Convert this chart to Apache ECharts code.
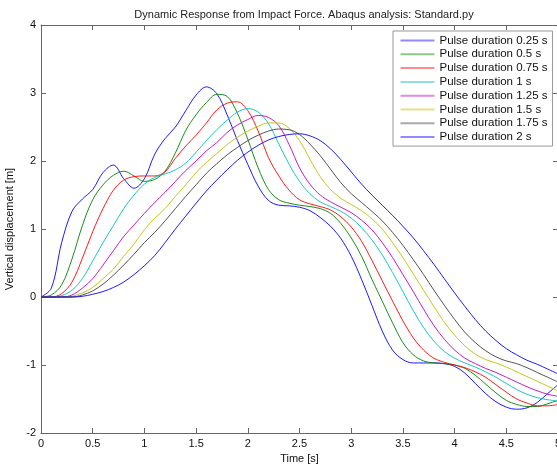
<!DOCTYPE html>
<html>
<head>
<meta charset="utf-8">
<script src="https://cdn.jsdelivr.net/npm/echarts@6/dist/echarts.min.js"></script>
<style>
  html, body { margin: 0; padding: 0; background: #fff; overflow: hidden; }
  #chart { width: 557px; height: 466px; }
</style>
</head>
<body>
<div id="chart"></div>
<script>
// Time samples [s]
const times = [0,0.1,0.2,0.3,0.4,0.5,0.6,0.7,0.8,0.9,1.0,1.1,1.2,1.3,1.4,1.5,1.6,1.7,1.8,1.9,2.0,2.1,2.2,2.3,2.4,2.5,2.6,2.7,2.8,2.9,3.0,3.1,3.2,3.3,3.4,3.5,3.6,3.7,3.8,3.9,4.0,4.1,4.2,4.3,4.4,4.5,4.6,4.7,4.8,4.9,5.0];

const seriesNames = ['Pulse duration 0.25 s','Pulse duration 0.5 s','Pulse duration 0.75 s','Pulse duration 1 s','Pulse duration 1.25 s','Pulse duration 1.5 s','Pulse duration 1.75 s','Pulse duration 2 s'];

const pulse025 = [0,0.13,0.8,1.26,1.44,1.58,1.83,1.94,1.74,1.6,1.74,2.1,2.33,2.5,2.74,2.97,3.09,2.99,2.68,2.3,1.95,1.63,1.42,1.35,1.34,1.32,1.27,1.17,1.04,0.86,0.6,0.26,-0.12,-0.5,-0.78,-0.92,-0.97,-0.97,-0.97,-0.98,-1.02,-1.12,-1.27,-1.42,-1.54,-1.62,-1.65,-1.63,-1.55,-1.42,-1.29];
const pulse050 = [0,0.03,0.18,0.56,1.05,1.43,1.65,1.79,1.85,1.78,1.70,1.73,1.85,2.12,2.45,2.68,2.86,2.98,2.95,2.7,2.32,1.9,1.58,1.43,1.38,1.35,1.33,1.30,1.23,1.08,0.87,0.6,0.26,-0.06,-0.38,-0.67,-0.85,-0.94,-0.97,-0.98,-1.0,-1.05,-1.15,-1.28,-1.41,-1.52,-1.58,-1.61,-1.61,-1.57,-1.52];
const pulse075 = [0,0,0.05,0.22,0.57,0.96,1.3,1.57,1.72,1.77,1.78,1.78,1.84,2.04,2.22,2.38,2.56,2.75,2.85,2.87,2.74,2.44,2.05,1.78,1.57,1.43,1.37,1.33,1.28,1.18,1.03,0.82,0.54,0.24,-0.06,-0.35,-0.6,-0.78,-0.9,-0.96,-1.0,-1.04,-1.1,-1.18,-1.29,-1.4,-1.5,-1.56,-1.6,-1.6,-1.58];
const pulse100 = [0,0,0.02,0.1,0.27,0.53,0.8,1.05,1.3,1.5,1.66,1.76,1.81,1.87,1.97,2.13,2.3,2.46,2.6,2.72,2.77,2.72,2.55,2.25,1.95,1.7,1.52,1.4,1.33,1.26,1.16,1.02,0.84,0.62,0.36,0.08,-0.2,-0.45,-0.65,-0.8,-0.9,-0.97,-1.03,-1.1,-1.18,-1.27,-1.36,-1.43,-1.48,-1.51,-1.53];
const pulse125 = [0,0,0,0.03,0.13,0.27,0.47,0.68,0.89,1.06,1.23,1.39,1.54,1.7,1.86,2.0,2.15,2.27,2.42,2.53,2.61,2.67,2.64,2.52,2.24,1.9,1.66,1.5,1.4,1.32,1.24,1.13,0.99,0.8,0.58,0.33,0.08,-0.18,-0.42,-0.62,-0.78,-0.9,-0.98,-1.05,-1.11,-1.18,-1.25,-1.32,-1.38,-1.43,-1.46];
const pulse150 = [0,0,0,0.01,0.06,0.14,0.27,0.41,0.6,0.78,0.99,1.16,1.3,1.48,1.65,1.83,1.98,2.11,2.24,2.35,2.44,2.51,2.56,2.56,2.48,2.3,2.03,1.77,1.58,1.45,1.36,1.27,1.15,1.0,0.8,0.58,0.34,0.1,-0.14,-0.37,-0.56,-0.72,-0.84,-0.92,-0.97,-1.03,-1.1,-1.17,-1.24,-1.31,-1.38];
const pulse175 = [0,0,0,0,0.03,0.09,0.19,0.32,0.47,0.63,0.8,0.95,1.12,1.3,1.48,1.65,1.82,1.96,2.09,2.2,2.3,2.38,2.44,2.47,2.46,2.39,2.25,2.08,1.88,1.68,1.52,1.39,1.26,1.12,0.95,0.76,0.55,0.33,0.1,-0.12,-0.33,-0.52,-0.67,-0.79,-0.88,-0.94,-0.98,-1.04,-1.11,-1.18,-1.25];
const pulse200 = [0,0,0,0,0.01,0.04,0.08,0.14,0.22,0.33,0.46,0.61,0.8,1.0,1.19,1.38,1.56,1.72,1.87,2.01,2.13,2.23,2.31,2.36,2.39,2.4,2.37,2.3,2.18,2.02,1.84,1.66,1.5,1.35,1.2,1.04,0.87,0.68,0.48,0.27,0.06,-0.14,-0.33,-0.5,-0.64,-0.76,-0.85,-0.93,-0.99,-1.06,-1.13];

const xTicks = [0,0.5,1,1.5,2,2.5,3,3.5,4,4.5,5];
const yTicks = [-2,-1,0,1,2,3,4];

const colors = ['#0000ff','#008000','#ff0000','#00bfbf','#bf00bf','#bfbf00','#404040','#0000ff'];
const allValues = [pulse025,pulse050,pulse075,pulse100,pulse125,pulse150,pulse175,pulse200];

const font = 'Liberation Sans, Arial, Helvetica, sans-serif';
const axisColor = '#666';

const chart = echarts.init(document.getElementById('chart'), null, {renderer: 'canvas'});

const series = allValues.map((vals, i) => ({
  name: seriesNames[i],
  type: 'line',
  data: times.map((t, k) => [t, vals[k]]),
  showSymbol: false,
  symbol: 'none',
  smooth: 0.35,
  lineStyle: { color: colors[i], width: 0.9 },
  itemStyle: { color: colors[i] },
  emphasis: { disabled: true },
  animation: false,
  xAxisIndex: 0,
  yAxisIndex: 0,
  clip: true
}));

const baseAxisLine = { show: true, onZero: false, lineStyle: { color: axisColor, width: 1 } };

chart.setOption({
  animation: false,
  backgroundColor: '#fff',
  title: {
    text: 'Dynamic Response from Impact Force. Abaqus analysis: Standard.py',
    left: 299, top: 4, textAlign: 'center',
    textStyle: { fontFamily: font, fontSize: 11, fontWeight: 'normal', color: '#222' }
  },
  grid: { left: 41, top: 25, width: 517, height: 408, containLabel: false, outerBoundsMode: 'none' },
  legend: {
    orient: 'vertical',
    left: 393, top: 31,
    data: seriesNames,
    icon: 'rect',
    itemWidth: 34, itemHeight: 2,
    itemGap: 1.8,
    padding: [3.5, 5, 3, 7.5],
    backgroundColor: '#fff',
    borderColor: '#999', borderWidth: 1, borderRadius: 0,
    itemStyle: { opacity: 0.45 },
    textStyle: { fontFamily: font, fontSize: 11.5, lineHeight: 11, color: '#111' },
    selectedMode: false
  },
  xAxis: [{
    type: 'value', min: 0, max: 5, interval: 0.5, position: 'bottom',
    name: 'Time [s]', nameLocation: 'middle', nameGap: 20,
    nameTextStyle: { fontFamily: font, fontSize: 11, color: '#111' },
    axisLine: baseAxisLine,
    axisTick: { show: true, inside: true, length: 5, lineStyle: { color: axisColor } },
    axisLabel: { fontFamily: font, fontSize: 11, color: '#111', margin: 5,
      formatter: v => xTicks.includes(v) ? String(v) : '' },
    splitLine: { show: false }
  }, {
    type: 'value', min: 0, max: 5, interval: 0.5, position: 'top',
    axisLine: baseAxisLine,
    axisTick: { show: true, inside: true, length: 5, lineStyle: { color: axisColor } },
    axisLabel: { show: false },
    splitLine: { show: false }
  }],
  yAxis: [{
    type: 'value', min: -2, max: 4, interval: 1, position: 'left',
    name: 'Vertical displacement [m]', nameLocation: 'middle', nameGap: 20,
    nameTextStyle: { fontFamily: font, fontSize: 11, color: '#111' },
    axisLine: baseAxisLine,
    axisTick: { show: true, inside: true, length: 5, lineStyle: { color: axisColor } },
    axisLabel: { fontFamily: font, fontSize: 11, color: '#111', margin: 5,
      formatter: v => yTicks.includes(v) ? String(v) : '' },
    splitLine: { show: false }
  }, {
    type: 'value', min: -2, max: 4, interval: 1, position: 'right',
    axisLine: baseAxisLine,
    axisTick: { show: true, inside: true, length: 5, lineStyle: { color: axisColor } },
    axisLabel: { show: false },
    splitLine: { show: false }
  }],
  series: series
});
</script>
</body>
</html>
